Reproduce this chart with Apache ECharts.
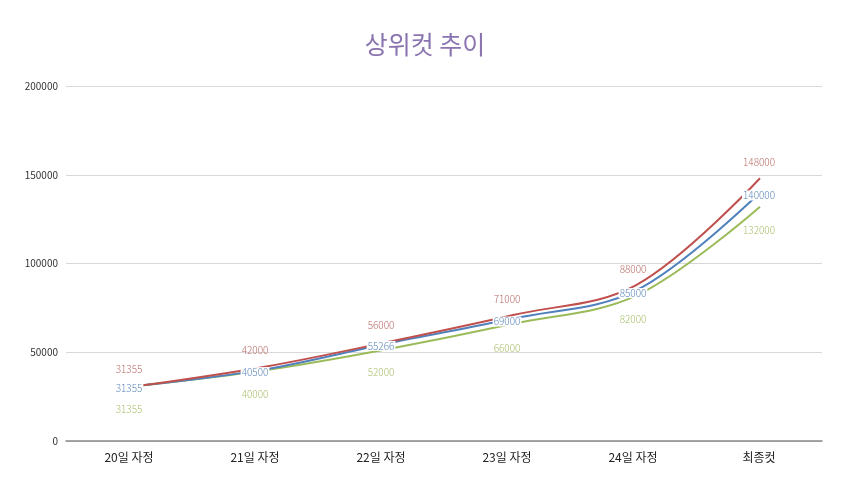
<!DOCTYPE html>
<html>
<head>
<meta charset="utf-8">
<script src="https://cdn.jsdelivr.net/npm/echarts@6/dist/echarts.min.js"></script>
<style>
  html, body { margin: 0; padding: 0; background: #fff; }
  #chart { width: 850px; height: 477px; }
</style>
</head>
<body>
<div id="chart"></div>
<script>
// 카테고리와 값
const categories = ['20일 자정', '21일 자정', '22일 자정', '23일 자정', '24일 자정', '최종컷']
const topCut = [31355, 42000, 56000, 71000, 88000, 148000]
const midCut = [31355, 40500, 55266, 69000, 85000, 140000]
const lowCut = [31355, 40000, 52000, 66000, 82000, 132000]

const font = '"Noto Sans CJK KR", "Noto Sans", sans-serif'

// 선 (두번째 grid, 원본처럼 점 위치가 살짝 안쪽)
function curve(name, data, color) {
  return {
    name: name,
    type: 'line',
    xAxisIndex: 1,
    yAxisIndex: 1,
    smooth: 0.35,
    symbol: 'none',
    data: data,
    lineStyle: { color: color, width: 2 },
    itemStyle: { color: color },
    z: 2
  }
}

// 데이터 레이블 (카테고리 중심에 표시)
function labels(name, data, labelColor, labelPos, offset, bg) {
  return {
    name: name + ' 레이블',
    type: 'line',
    symbol: 'circle',
    symbolSize: 0,
    data: data,
    lineStyle: { opacity: 0 },
    itemStyle: { color: labelColor },
    silent: true,
    z: 5,
    label: {
      show: true,
      position: labelPos,
      offset: offset,
      color: labelColor,
      fontFamily: font,
      fontSize: 10,
      fontWeight: 300,
      backgroundColor: bg || 'transparent',
      padding: bg ? [0, 1] : 0
    }
  }
}

const chart = echarts.init(document.getElementById('chart'))
chart.setOption({
  animation: false,
  backgroundColor: '#fff',
  title: {
    text: '상위컷 추이',
    left: 'center',
    top: 27,
    textStyle: { color: '#8a74b0', fontSize: 25, fontWeight: 400, fontFamily: font }
  },
  grid: [
    { left: 66, right: 28, top: 86, bottom: 36 },
    { left: 143, right: 90, top: 86, bottom: 36 }
  ],
  xAxis: [
    {
      type: 'category',
      data: categories,
      boundaryGap: true,
      axisLine: { lineStyle: { color: '#888', width: 1.5 } },
      axisTick: { show: false },
      axisLabel: { color: '#222', fontSize: 12, fontFamily: font, margin: 10 }
    },
    {
      type: 'category',
      gridIndex: 1,
      data: categories,
      boundaryGap: false,
      show: false
    }
  ],
  yAxis: [
    {
      type: 'value',
      min: 0,
      max: 200000,
      interval: 50000,
      axisLine: { show: false },
      axisTick: { show: false },
      axisLabel: { color: '#333', fontSize: 10, fontFamily: font, margin: 8, formatter: v => String(v) },
      splitLine: { lineStyle: { color: '#d9d9d9' } }
    },
    {
      type: 'value',
      gridIndex: 1,
      min: 0,
      max: 200000,
      show: false,
      splitLine: { show: false }
    }
  ],
  series: [
    curve('하위', lowCut, '#9bbb59'),
    curve('중위', midCut, '#4f81bd'),
    curve('상위', topCut, '#c0504d'),
    labels('하위', lowCut, '#a7bf6a', 'bottom', [0, 14]),
    labels('중위', midCut, '#5b87b8', 'inside', [0, 3], '#fff'),
    labels('상위', topCut, '#b86a66', 'top', [0, -6])
  ]
})
</script>
</body>
</html>
